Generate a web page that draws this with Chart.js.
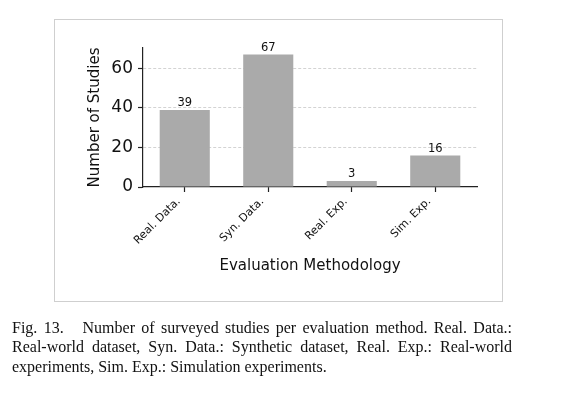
<!doctype html>
<html lang="en">
  <head>
    <meta charset="utf-8">
    <title>Number of surveyed studies per evaluation method</title>
    <style>
      * {
        margin: 0;
        padding: 0;
      }
      body {
        width: 562px;
        height: 394px;
        background: #fff;
        position: relative;
        overflow: hidden;
      }
      .frame {
        position: absolute;
        left: 54px;
        top: 19px;
        width: 447px;
        height: 281px;
        border: 1px solid #cfcfcf;
      }
      .chartBox {
        position: absolute;
        left: 0;
        top: 0;
        width: 562px;
        height: 394px;
      }
      .caption {
        position: absolute;
        left: 12px;
        top: 318px;
        width: 500px;
        font-family: "Liberation Serif", "Times New Roman", serif;
        font-size: 16px;
        line-height: 19.3px;
        color: #111;
      }
      .caption span {
        display: block;
        white-space: nowrap;
      }
      .caption .full {
        text-align: justify;
        text-align-last: justify;
      }
    </style>
  </head>
  <body>
    <div class="frame"></div>
    <div class="chartBox">
      <canvas id="myChart" width="562" height="394"></canvas>
    </div>
    <p class="caption">
      <span class="full" style="white-space: normal">Fig. 13.&nbsp;&nbsp; Number of surveyed studies per evaluation method. Real. Data.:</span>
      <span class="full" style="white-space: normal">Real-world dataset, Syn. Data.: Synthetic dataset, Real. Exp.: Real-world</span>
      <span>experiments, Sim. Exp.: Simulation experiments.</span>
    </p>

    <script src="https://cdn.jsdelivr.net/npm/chart.js/dist/chart.umd.min.js"></script>
    <script>
    // setup
    const methods = ['Real. Data.', 'Syn. Data.', 'Real. Exp.', 'Sim. Exp.']
    const studies = [39, 67, 3, 16]
    const yTicks = [0, 20, 40, 60]

    const font = 'DejaVu Sans'

    // numbers above each bar
    const barValues = {
      id: 'barValues',
      afterDatasetsDraw: (chart) => {
        const { ctx } = chart
        const meta = chart.getDatasetMeta(0)
        ctx.save()
        ctx.fillStyle = '#111'
        ctx.font = '11.5px "' + font + '"'
        ctx.textAlign = 'center'
        ctx.textBaseline = 'bottom'
        meta.data.forEach((bar, i) => {
          ctx.fillText(String(studies[i]), bar.x, bar.y - 1)
        })
        ctx.restore()
      }
    }

    const data = {
      labels: methods,
      datasets: [{
        data: studies,
        backgroundColor: '#aaaaaa',
        borderWidth: 0,
        categoryPercentage: 1,
        barPercentage: 0.6
      }]
    }

    const config = {
      type: 'bar',
      data,
      plugins: [barValues],
      options: {
        responsive: false,
        animation: false,
        events: [],
        layout: {
          padding: { left: 83, right: 85, top: 48, bottom: 119 }
        },
        plugins: {
          legend: { display: false },
          tooltip: { enabled: false }
        },
        scales: {
          x: {
            offset: true,
            afterFit: (scale) => { scale.height = 88 },
            border: { display: true, color: '#222', width: 1.2 },
            grid: {
              display: true,
              drawOnChartArea: false,
              drawTicks: true,
              tickLength: 5,
              tickColor: '#222',
              tickWidth: 1.2,
              offset: false
            },
            ticks: {
              color: '#111',
              font: { family: font, size: 11 },
              minRotation: 45,
              maxRotation: 45,
              padding: 3,
              labelOffset: -6
            },
            title: {
              display: true,
              text: 'Evaluation Methodology',
              color: '#111',
              font: { family: font, size: 15 },
              padding: { top: 0, bottom: 0 }
            }
          },
          y: {
            min: 0,
            max: 70.35,
            afterFit: (scale) => { scale.width = 60 },
            afterBuildTicks: (scale) => {
              scale.ticks = yTicks.map(v => ({ value: v }))
            },
            // in v4 border.dash dashes the grid lines
            border: { display: true, color: '#222', width: 1.2, dash: [3, 2] },
            grid: {
              color: (c) => c.tick && c.tick.value === 0 ? 'rgba(0,0,0,0)' : '#c8c8c8',
              lineWidth: 0.8,
              tickLength: 5,
              tickColor: '#222',
              tickWidth: 1.2,
              tickBorderDash: []
            },
            ticks: {
              color: '#111',
              font: { family: font, size: 17 },
              padding: 5
            },
            title: {
              display: true,
              text: 'Number of Studies',
              color: '#111',
              font: { family: font, size: 15 },
              padding: { top: 3, bottom: 0 }
            }
          }
        }
      }
    }

    const ctx = document.getElementById('myChart')
    const myChart = new Chart(ctx, config)
    </script>
  </body>
</html>
